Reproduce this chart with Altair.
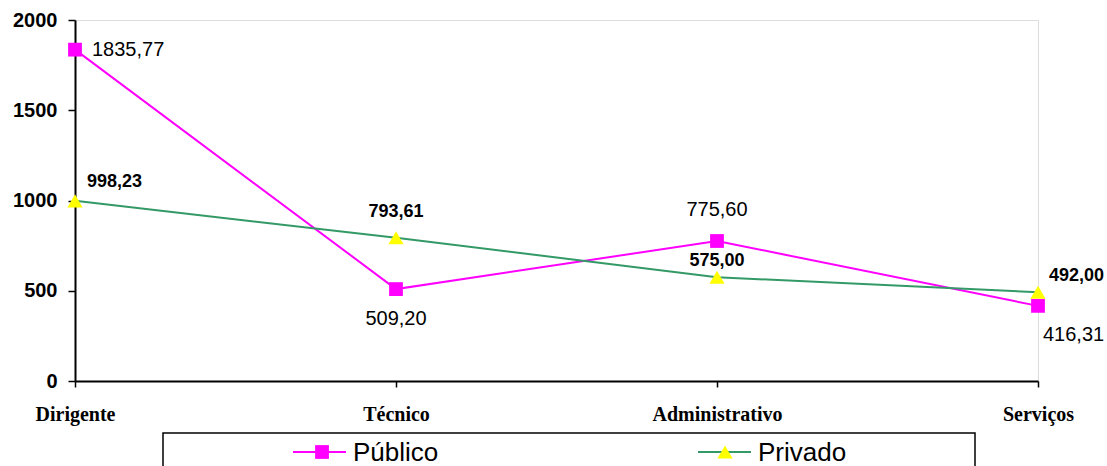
import altair as alt
import pandas as pd

categorias = ["Dirigente", "Técnico", "Administrativo", "Serviços"]
publico = [1835.77, 509.20, 775.60, 416.31]
privado = [998.23, 793.61, 575.00, 492.00]
y_ticks = [0, 500, 1000, 1500, 2000]

def fmt(v):
    return f"{v:.2f}".replace(".", ",")

rows = []
for c, p, q in zip(categorias, publico, privado):
    rows.append({"Categoria": c, "Serie": "Público", "Valor": p, "Rotulo": fmt(p)})
    rows.append({"Categoria": c, "Serie": "Privado", "Valor": q, "Rotulo": fmt(q)})
df = pd.DataFrame(rows)

W, H = 963, 361
PUB_COLOR = "#FF00FF"
PRI_LINE = "#339966"
PRI_MARK = "#FFFF00"

x_enc = alt.X("Categoria:N", sort=categorias,
              scale=alt.Scale(type="point", padding=0),
              axis=alt.Axis(title=None, labelAngle=0, labelFont="Liberation Serif",
                            labelFontWeight="bold", labelFontSize=20, labelColor="black",
                            domainColor="black", domainWidth=2, tickColor="black",
                            tickWidth=1.5, tickSize=6, labelPadding=17))
y_enc = alt.Y("Valor:Q", scale=alt.Scale(domain=[0, 2000], nice=False),
              axis=alt.Axis(title=None, values=y_ticks, format="d", grid=False,
                            labelFont="Liberation Sans",
                            labelFontWeight="bold", labelFontSize=20, labelColor="black",
                            domainColor="black", domainWidth=2, tickColor="black",
                            tickWidth=1.5, tickSize=7, labelPadding=11))

base = alt.Chart(df).encode(x=x_enc, y=y_enc)

pub = base.transform_filter(alt.datum.Serie == "Público")
pri = base.transform_filter(alt.datum.Serie == "Privado")

layers = [
    pub.mark_line(color=PUB_COLOR, strokeWidth=2),
    pri.mark_line(color=PRI_LINE, strokeWidth=2),
    pub.mark_point(shape="square", filled=True, size=190, color=PUB_COLOR, opacity=1),
    pri.mark_point(shape="triangle-up", filled=True, size=230, color=PRI_MARK, opacity=1),
]

pub_offsets = [(17, 0, "left"), (0, 30, "center"), (0, -31, "center"), (5, 29, "left")]
pri_offsets = [(12, -19, "left"), (0, -26, "center"), (0, -16, "center"), (11, -16, "left")]

for cat, (dx, dy, al) in zip(categorias, pub_offsets):
    layers.append(
        pub.transform_filter(alt.datum.Categoria == cat).mark_text(
            font="Liberation Sans Narrow, Liberation Sans",
            fontSize=20, color="black", dx=dx, dy=dy, align=al, baseline="middle"
        ).encode(text="Rotulo:N")
    )
for cat, (dx, dy, al) in zip(categorias, pri_offsets):
    layers.append(
        pri.transform_filter(alt.datum.Categoria == cat).mark_text(
            font="Liberation Sans", fontWeight="bold", fontSize=18, color="black",
            dx=dx, dy=dy, align=al, baseline="middle"
        ).encode(text="Rotulo:N")
    )

# manual legend box
one = pd.DataFrame({"a": [0]})
lg = alt.Chart(one)
LY = 432
layers += [
    lg.mark_rect(fill="white", stroke="black", strokeWidth=1.5).encode(
        x=alt.value(88), x2=alt.value(900), y=alt.value(413), y2=alt.value(480)),
    lg.mark_rule(color=PUB_COLOR, strokeWidth=2).encode(
        x=alt.value(218), x2=alt.value(271), y=alt.value(LY)),
    lg.mark_point(shape="square", filled=True, size=190, color=PUB_COLOR, opacity=1).encode(
        x=alt.value(247), y=alt.value(LY)),
    lg.mark_text(text="Público", font="Liberation Sans", fontSize=26, color="black",
                 align="left", baseline="middle").encode(x=alt.value(278), y=alt.value(LY + 1)),
    lg.mark_rule(color=PRI_LINE, strokeWidth=2).encode(
        x=alt.value(623), x2=alt.value(676), y=alt.value(LY)),
    lg.mark_point(shape="triangle-up", filled=True, size=230, color=PRI_MARK, opacity=1).encode(
        x=alt.value(650), y=alt.value(LY)),
    lg.mark_text(text="Privado", font="Liberation Sans", fontSize=26, color="black",
                 align="left", baseline="middle").encode(x=alt.value(683), y=alt.value(LY + 1)),
]

chart = alt.layer(*layers).properties(
    width=W, height=H,
    autosize=alt.AutoSizeParams(type="none"),
    padding={"left": 75, "top": 20, "right": 69, "bottom": 85},
).configure_view(stroke="#8c8c8c", strokeWidth=2.5).configure(background="white")

chart.save("out.html", embed_options={"renderer": "svg", "actions": False})
